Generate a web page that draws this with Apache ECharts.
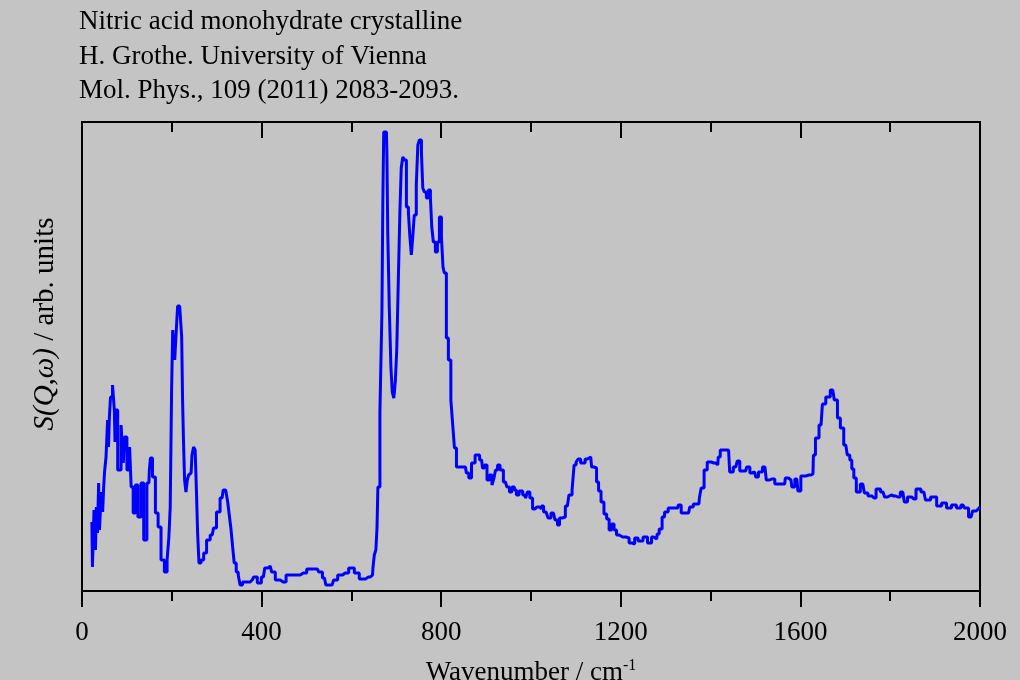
<!DOCTYPE html>
<html><head><meta charset="utf-8">
<script src="https://cdn.jsdelivr.net/npm/echarts@6/dist/echarts.min.js"></script>
<style>html,body{margin:0;padding:0;background:#c4c4c4}#c{width:1020px;height:680px}</style>
</head><body><div id="c"></div>
<script>
// Wavenumber (cm^-1)
const wavenumber = [
  22,24.5,29,31,33,36,38,40,42,45,
  47,49,51,56,58,60,62,65,71,73,
  74,76,83,91,93,96,104,108,111,117,
  121,128,135,140,149,151,154,160,167,172,
  180,187,192,195,198,201,203,205,208,212,
  214,221,223,225,227,230,233,236,239,243,
  247,250,254,256,259,262,268,274,281,290,
  296,303,312,317,323,326,330,334,337,341,
  346,350,354,361,370,379,386,395,404,410,
  419,426,435,448,461,479,493,508,524,531,
  540,546,557,564,575,586,602,611,624,638,
  647,649,653,656,658,660,667,669,671,673,
  678,680,682,687,689,693,696,700,702,707,
  709,713,716,720,725,729,731,736,738,742,
  747,749,754,758,760,765,769,774,778,780,
  785,789,794,798,803,805,809,814,818,825,
  827,832,836,845,854,858,865,870,881,890,
  894,899,905,910,916,919,923,928,934,943,
  950,954,961,965,970,977,986,990,994,1001,
  1006,1010,1017,1021,1026,1030,1037,1039,1050,1057,
  1061,1066,1072,1081,1088,1095,1097,1104,1106,1115,
  1126,1133,1137,1144,1148,1153,1159,1166,1171,1177,
  1182,1188,1193,1200,1208,1215,1222,1229,1233,1244,
  1255,1264,1273,1280,1282,1289,1295,1300,1311,1327,
  1329,1340,1351,1356,1367,1374,1376,1382,1389,1396,
  1407,1416,1418,1425,1440,1445,1456,1463,1467,1478,
  1483,1492,1498,1503,1510,1521,1527,1536,1550,1565,
  1568,1579,1583,1592,1597,1605,1619,1628,1630,1637,
  1646,1652,1661,1672,1679,1686,1692,1701,1708,1712,
  1717,1721,1728,1739,1746,1755,1764,1773,1784,1791,
  1797,1808,1817,1828,1835,1842,1853,1862,1875,1882,
  1898,1909,1920,1931,1942,1953,1962,1969,1980,1987,
  1996,2000
];
// S(Q,w), arbitrary units
const intensity = [
  69,24,81,41,84,58,108,61,81,99,
  79,101,118,134,171,144,174,194,206,181,
  149,181,121,166,128,154,121,144,104,78,
  106,74,108,51,108,121,133,114,78,64,
  31,19,31,54,84,199,261,246,231,261,
  285,285,254,191,151,111,99,111,116,118,
  136,144,141,98,58,28,31,38,51,56,
  63,79,93,101,101,89,76,61,44,28,
  19,16,6,9,9,11,14,8,14,23,
  25,19,11,9,16,16,18,22,22,19,
  13,6,6,11,16,18,23,18,12,14,
  16,23,36,41,63,104,179,279,389,459,
  459,438,358,281,224,199,193,211,241,311,
  379,423,434,431,384,378,356,336,356,376,
  406,446,451,438,403,399,393,401,393,364,
  349,339,349,374,354,324,318,253,231,191,
  164,143,124,124,124,118,113,128,136,131,
  123,126,111,116,106,113,121,126,121,109,
  104,99,104,101,96,100,96,93,99,93,
  82,84,84,82,85,79,78,73,78,71,
  66,73,74,85,96,101,126,129,132,128,
  132,134,124,123,109,100,89,77,72,61,
  67,61,56,54,54,53,48,47,53,50,
  54,48,54,52,57,62,74,79,83,83,
  86,78,78,84,87,87,93,103,121,129,
  128,126,134,141,141,119,124,130,120,120,
  124,118,119,114,119,124,111,112,107,107,
  113,111,104,112,100,115,116,117,136,153,
  166,187,194,201,191,173,163,146,136,131,
  122,113,99,107,98,95,93,102,99,94,
  96,95,94,99,89,94,92,102,99,91,
  94,85,88,83,86,83,86,83,74,80,
  82,84
];

const ticks = [0,400,800,1200,1600,2000];
const data = wavenumber.map((w,i)=>[w,intensity[i]]);
const F = 'Liberation Serif, Times New Roman, serif';

const chart = echarts.init(document.getElementById('c'));
chart.setOption({
  backgroundColor:'#c4c4c4',
  animation:false,
  title:{
    text:'Nitric acid monohydrate crystalline\nH. Grothe. University of Vienna\nMol. Phys., 109 (2011) 2083-2093.',
    left:74, top:0,
    textStyle:{fontFamily:F,fontSize:27,fontWeight:'normal',color:'#000',lineHeight:34.5}
  },
  grid:{left:82,right:40,top:122,bottom:89,containLabel:false,outerBoundsMode:'none',show:true,borderColor:'#000',borderWidth:2,backgroundColor:'transparent'},
  xAxis:[{
    type:'value',min:0,max:2000,interval:400,position:'bottom',
    axisLine:{show:true,lineStyle:{color:'#000',width:2}},
    axisTick:{show:true,inside:false,length:16,lineStyle:{color:'#000',width:2}},
    minorTick:{show:true,splitNumber:2,length:10,lineStyle:{color:'#000',width:2}},
    splitLine:{show:false},
    axisLabel:{color:'#000',fontFamily:F,fontSize:27,margin:28,formatter:v=>ticks.includes(v)?String(v):''},
    name:'{a|Wavenumber / cm}{s|-1}',nameLocation:'middle',nameGap:67,
    nameTextStyle:{rich:{a:{fontFamily:F,fontSize:27,color:'#000'},s:{fontFamily:F,fontSize:16,color:'#000',verticalAlign:'top',padding:[0,0,14,0]}}}
  },{
    type:'value',min:0,max:2000,interval:400,position:'top',
    axisLine:{show:true,lineStyle:{color:'#000',width:2}},
    axisTick:{show:true,inside:true,length:16,lineStyle:{color:'#000',width:2}},
    minorTick:{show:true,splitNumber:2,length:10,lineStyle:{color:'#000',width:2}},
    splitLine:{show:false},axisLabel:{show:false}
  }],
  yAxis:{
    type:'value',min:0,max:469,
    axisLine:{show:true,lineStyle:{color:'#000',width:2}},
    axisTick:{show:false},axisLabel:{show:false},splitLine:{show:false}
  },
  graphic:[{
    type:'text',x:45,y:324,rotation:Math.PI/2,
    style:{
      text:'{i|S(Q,ω)}{n| / arb. units}',
      align:'center',verticalAlign:'middle',
      rich:{i:{fontFamily:F,fontSize:29,fontStyle:'italic',fill:'#000'},n:{fontFamily:F,fontSize:29,fill:'#000'}}
    }
  }],
  series:[{
    type:'line',step:'middle',data:data,showSymbol:false,xAxisIndex:0,
    lineStyle:{color:'#0000ff',width:3},itemStyle:{color:'#0000ff'}
  }]
});
</script></body></html>
